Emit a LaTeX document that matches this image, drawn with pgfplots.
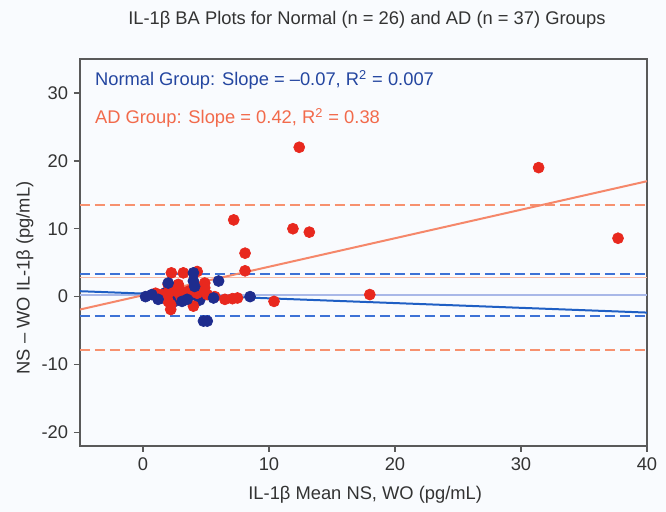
\documentclass[border=0pt]{standalone}
\usepackage{pgfplots}
\pgfplotsset{compat=1.18}
\usepackage{pgfplotstable}
\usepackage{fontspec}
\setmainfont{Liberation Sans}

\definecolor{bgc}{HTML}{F9FBFE}
\definecolor{ptblue}{HTML}{1E2C8E}
\definecolor{ptred}{HTML}{E8281E}
\definecolor{txtblue}{HTML}{2446A0}
\definecolor{txtred}{HTML}{F26A4B}
\definecolor{dashblue}{HTML}{3D72D6}
\definecolor{dashred}{HTML}{F7916F}
\definecolor{regblue}{HTML}{1F5FC4}
\definecolor{regred}{HTML}{F5876A}
\definecolor{meanblue}{HTML}{A9B8E8}
\definecolor{meanred}{HTML}{F8B9A4}
\definecolor{axgray}{HTML}{5A5A5A}
\definecolor{txtgray}{HTML}{333333}

% Normal group (n = 26): mean, difference
% points lying under the AD cluster
\pgfplotstableread{
x y
1.0 0.2
1.5 -0.2
2.5 0.5
2.2 0.8
2.8 -0.2
3.3 0.3
1.8 0.6
2.6 1.2
3.8 0.2
4.5 -0.5
2.4 -0.8
1.6 0.1
}\normaltabA
% points showing on top
\pgfplotstableread{
x y
0.2 0.0
0.7 0.3
1.2 -0.4
2.0 2.0
3.1 -0.7
3.5 -0.4
4.0 3.5
4.0 2.3
4.1 1.5
4.8 -3.6
5.1 -3.6
5.6 -0.2
6.0 2.3
8.5 0.0
}\normaltabB

% AD group (n = 37)
\pgfplotstableread{
x y
12.4 22.0
31.4 19.0
37.7 8.6
11.9 10.0
13.2 9.5
7.2 11.3
8.1 6.4
8.1 3.8
18.0 0.3
10.4 -0.7
2.25 3.5
3.2 3.5
2.0 1.8
2.8 1.8
1.0 0.5
1.5 0.3
2.0 0.5
2.6 0.8
2.0 -0.7
2.2 -1.9
3.0 0.0
4.0 -1.4
3.6 0.8
4.3 0.5
4.9 2.0
5.1 0.3
5.7 0.0
4.3 3.7
4.9 1.3
6.5 -0.4
7.1 -0.3
7.5 -0.2
2.4 1.2
1.8 -0.2
2.9 1.0
3.5 0.2
2.2 -1.2
}\adtab

\begin{document}
\begin{tikzpicture}[font=\fontsize{11}{13}\selectfont]
\fill[bgc] (-48pt,-39.6pt) rectangle (351.6pt,267.6pt);
\path[use as bounding box] (-48pt,-39.6pt) rectangle (351.6pt,267.6pt);
\begin{axis}[
    scale only axis,
    width=340.2pt, height=232.2pt,
    xmin=-5, xmax=40, ymin=-22, ymax=35,
    xtick={0,10,20,30,40},
    ytick={-20,-10,0,10,20,30},
    tick pos=left,
    tick align=outside,
    major tick length=3.6pt,
    every tick/.style={axgray, line width=0.8pt},
    axis line style={axgray, line width=1.1pt},
    /pgf/number format/assume math mode=true,
    tick label style={txtgray, font=\fontsize{11}{13}\selectfont},
    xlabel={IL-1β Mean NS, WO (pg/mL)},
    ylabel={NS – WO IL-1β (pg/mL)},
    label style={txtgray, font=\fontsize{11}{13}\selectfont},
    xlabel style={at={(axis description cs:0.503,0)}, anchor=center, yshift=-29.4pt},
    ylabel style={at={(axis description cs:-0.097,0.434)}, anchor=center, rotate=0},
    clip=false,
]
% mean lines
\addplot[meanblue, line width=0.7pt] coordinates {(-5,0.25) (40,0.25)};
\addplot[meanred, line width=0.9pt] coordinates {(-5,2.85) (40,2.85)};
% limits of agreement
\addplot[dashred, line width=1.3pt, dash pattern=on 6pt off 3pt] coordinates {(-5,13.5) (40,13.5)};
\addplot[dashred, line width=1.3pt, dash pattern=on 6pt off 3pt] coordinates {(-5,-7.8) (40,-7.8)};
\addplot[dashblue, line width=1.3pt, dash pattern=on 6pt off 3pt] coordinates {(-5,3.3) (40,3.3)};
\addplot[dashblue, line width=1.3pt, dash pattern=on 6pt off 3pt] coordinates {(-5,-2.8) (40,-2.8)};
% regression lines
\addplot[regblue, line width=1.2pt] coordinates {(-5,0.8) (40,-2.35)};
\addplot[regred, line width=1.2pt] coordinates {(-5,-1.9) (40,17.0)};
% points
\addplot[only marks, mark=*, mark size=3.3pt, ptblue, mark options={draw=ptblue}] table[x=x, y=y] {\normaltabA};
\addplot[only marks, mark=*, mark size=3.3pt, ptred, mark options={draw=ptred}] table[x=x, y=y] {\adtab};
\addplot[only marks, mark=*, mark size=3.3pt, ptblue, mark options={draw=ptblue}] table[x=x, y=y] {\normaltabB};
% legend text
\node[anchor=west, txtblue, inner sep=0pt] at (axis description cs:0.026,0.946) {Normal Group: Slope = –0.07, R\textsuperscript{2} = 0.007};
\node[anchor=west, txtred, inner sep=0pt] at (axis description cs:0.026,0.848) {AD Group: Slope = 0.42, R\textsuperscript{2} = 0.38};
% title
\node[txtgray, anchor=center] at ([yshift=23.4pt]axis description cs:0.506,1) {IL-1β BA Plots for Normal (n = 26) and AD (n = 37) Groups};
\end{axis}
\end{tikzpicture}
\end{document}
